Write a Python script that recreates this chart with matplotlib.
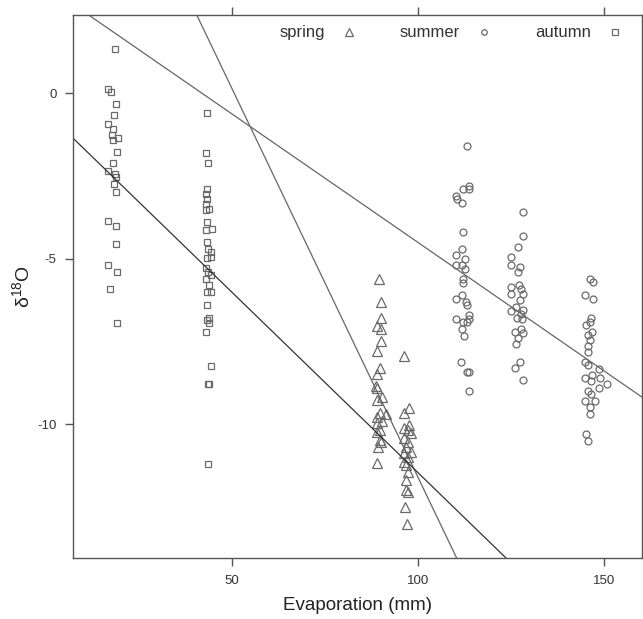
import matplotlib
matplotlib.use('Agg')
import matplotlib.pyplot as plt
import numpy as np

plt.rcParams['font.family'] = ['Liberation Sans', 'DejaVu Sans']
plt.rcParams['mathtext.default'] = 'regular'
plt.rcParams['axes.unicode_minus'] = False

# spring (triangles)
spring_x = [89.5, 89.9, 89.9, 88.8, 89.9, 89.9, 88.8, 89.7, 88.8, 88.5, 88.8, 90.3,
            88.8, 89.6, 91.3, 88.8, 90.2, 88.8, 89.6, 88.8, 89.7, 89.9, 89.3, 89.0,
            96.1, 97.4, 96.1, 97.5, 96.1, 97.3, 98.0, 96.1, 97.3, 96.8, 98.0, 96.1,
            97.3, 96.1, 96.8, 97.3, 96.8, 96.8, 97.1, 96.4, 96.9]
spring_y = [-5.61, -6.30, -6.80, -7.02, -7.12, -7.48, -7.79, -8.29, -8.49, -8.83, -8.91, -9.17,
            -9.27, -9.67, -9.69, -9.77, -9.90, -9.97, -10.17, -10.22, -10.47, -10.54, -10.69, -11.16,
            -7.93, -9.52, -9.67, -10.02, -10.12, -10.17, -10.27, -10.42, -10.52, -10.68, -10.83, -10.88,
            -10.98, -11.13, -11.23, -11.43, -11.68, -11.99, -12.04, -12.49, -13.02]

# summer (circles)
summer_x = [113.0, 113.7, 111.9, 113.6, 110.2, 110.3, 111.6, 112.1, 111.6, 110.1, 112.5, 110.1,
            111.8, 112.6, 112.0, 112.0, 111.7, 110.1, 112.8, 113.0, 113.7, 110.1, 113.7, 111.9,
            113.0, 111.8, 112.4, 111.4, 113.0, 113.7, 113.7,
            128.0, 128.0, 126.8, 124.9, 127.2, 124.9, 126.8, 127.1, 124.9, 127.5, 124.9, 128.1,
            127.3, 126.3, 124.9, 128.0, 127.5, 126.5, 127.8, 127.6, 126.1, 128.0, 126.7, 126.2,
            127.3, 126.1, 128.1,
            146.1, 146.9, 144.8, 146.9, 146.5, 146.1, 145.1, 146.6, 145.5, 146.0, 145.5, 145.5,
            144.8, 145.7, 148.4, 146.6, 144.8, 146.5, 148.8, 150.6, 148.4, 145.6, 146.5, 147.4,
            144.8, 146.2, 146.1, 145.1, 145.5]
summer_y = [-1.60, -2.79, -2.90, -2.90, -3.10, -3.20, -3.30, -4.20, -4.69, -4.89, -5.00, -5.20,
            -5.20, -5.30, -5.60, -5.72, -6.10, -6.21, -6.30, -6.40, -6.70, -6.81, -6.81, -6.91,
            -6.91, -7.13, -7.32, -8.12, -8.42, -8.42, -8.98,
            -3.58, -4.32, -4.65, -4.95, -5.25, -5.18, -5.40, -5.79, -5.84, -5.91, -6.05, -6.06,
            -6.24, -6.45, -6.59, -6.55, -6.67, -6.79, -6.81, -7.12, -7.20, -7.25, -7.38, -7.57,
            -8.12, -8.29, -8.66,
            -5.60, -5.71, -6.10, -6.21, -6.80, -6.91, -7.01, -7.21, -7.31, -7.45, -7.62, -7.82,
            -8.12, -8.22, -8.32, -8.51, -8.60, -8.68, -8.61, -8.79, -8.89, -8.98, -9.09, -9.30,
            -9.30, -9.47, -9.68, -10.28, -10.50]

# autumn (squares)
autumn_x = [18.4, 16.6, 17.4, 18.9, 18.3, 16.6, 18.0, 17.8, 19.4, 18.1, 19.0, 17.9,
            16.6, 18.4, 18.8, 18.3, 18.8, 16.6, 18.9, 18.7, 16.6, 19.2, 17.3, 19.2,
            43.3, 43.0, 43.5, 43.3, 43.0, 43.3, 43.0, 43.8, 43.0, 43.3, 43.0, 44.7,
            43.3, 43.5, 44.4, 43.3, 44.3, 43.0, 43.4, 44.3, 43.0, 43.8, 43.3, 44.2,
            43.3, 43.8, 43.3, 43.7, 42.9, 44.2, 43.5, 43.8, 43.5]
autumn_y = [1.34, 0.13, 0.05, -0.33, -0.66, -0.93, -1.09, -1.26, -1.34, -1.41, -1.76, -2.11,
            -2.34, -2.45, -2.52, -2.75, -2.99, -3.85, -4.02, -4.54, -5.18, -5.39, -5.92, -6.94,
            -0.60, -1.80, -2.11, -2.89, -3.05, -3.19, -3.34, -3.50, -3.51, -3.88, -4.13, -4.11,
            -4.50, -4.69, -4.80, -4.98, -4.95, -5.29, -5.39, -5.50, -5.62, -5.79, -5.99, -6.00,
            -6.40, -6.80, -6.85, -6.95, -7.22, -8.23, -8.79, -8.79, -11.20]

# fitted lines (intercept, slope)
line_intercept = [3.26, 11.89, -0.56]
line_slope = [-0.0777, -0.2351, -0.1091]
line_color = ['#666666', '#666666', '#333333']

grey = '#6a6a6a'

fig = plt.figure(figsize=(6.43, 6.19), dpi=100)
ax = fig.add_axes([0.1138, 0.0985, 0.8842, 0.8773])

ax.plot(spring_x, spring_y, linestyle='none', marker='^', markersize=6.5,
        markerfacecolor='none', markeredgecolor=grey, markeredgewidth=0.9, label='spring')
ax.plot(summer_x, summer_y, linestyle='none', marker='o', markersize=5,
        markerfacecolor='none', markeredgecolor=grey, markeredgewidth=0.9, label='summer')
ax.plot(autumn_x, autumn_y, linestyle='none', marker='s', markersize=5,
        markerfacecolor='none', markeredgecolor=grey, markeredgewidth=0.9, label='autumn')

for a, b, c in zip(line_intercept, line_slope, line_color):
    ax.axline((0, a), slope=b, color=c, linewidth=0.9)

ax.set_xlim(7.3, 160.0)
ax.set_ylim(-14.04, 2.37)
ax.set_xticks([50, 100, 150])
ax.set_yticks([-10, -5, 0])

for s in ax.spines.values():
    s.set_color('#555555')
    s.set_linewidth(1.0)
ax.tick_params(direction='out', length=6, width=1, color='#555555', labelsize=9.5,
               labelcolor='#333333', pad=6, top=True, right=True)

ax.set_xlabel('Evaporation (mm)', fontsize=13.5, color='#222222')
ax.set_ylabel('δ$^{18}$O', fontsize=14, color='#222222')
ax.xaxis.set_label_coords(0.5, -0.071)
ax.yaxis.set_label_coords(-0.070, 0.5)

ax.legend(loc='center', bbox_to_anchor=(0.665, 0.967), ncol=3, frameon=False,
          markerfirst=False, handlelength=1.0, handletextpad=0.95, columnspacing=2.55,
          markerscale=0.8, fontsize=12, labelcolor='#333333')

plt.savefig('out.png', dpi=100)
